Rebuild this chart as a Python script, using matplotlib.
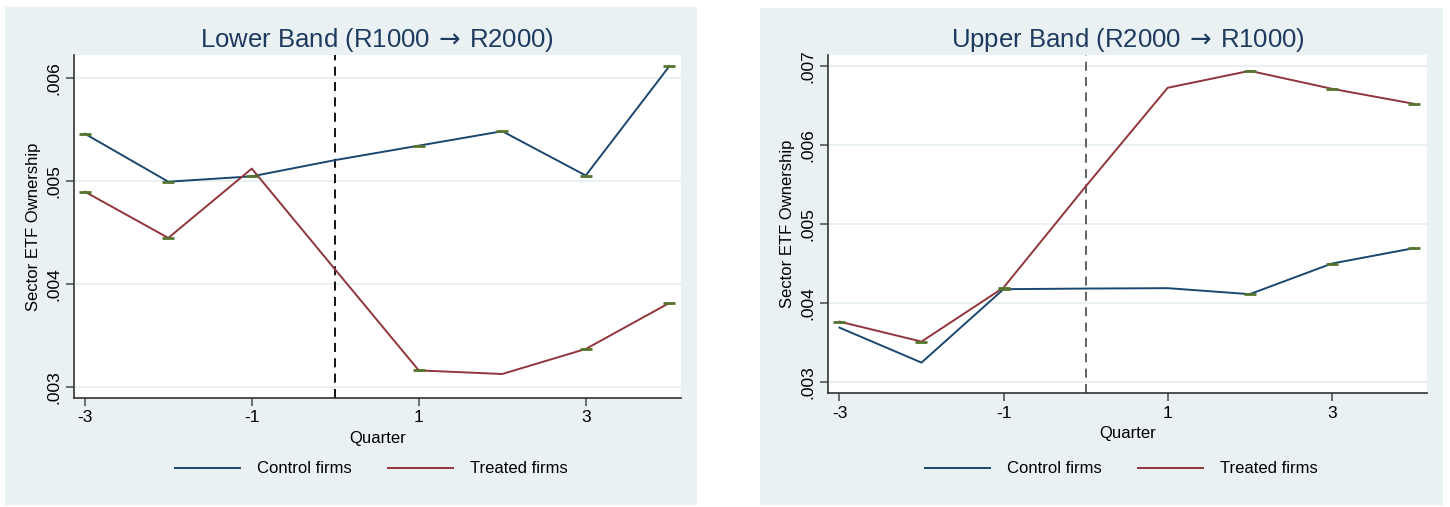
import matplotlib
matplotlib.use("Agg")
import matplotlib.pyplot as plt
from matplotlib.patches import Rectangle

plt.rcParams['font.family'] = ['Liberation Sans', 'DejaVu Sans']
plt.rcParams['mathtext.fontset'] = 'dejavusans'

quarters = [-3, -2, -1, 0, 1, 2, 3, 4]

# Lower band (R1000 -> R2000)
lower_control = [0.005456, 0.004990, 0.005042, 0.005200, 0.005340, 0.005480, 0.005050, 0.006110]
lower_treated = [0.004893, 0.004444, 0.005117, 0.004136, 0.003158, 0.003123, 0.003366, 0.003812]
lower_control_caps = [1, 1, 1, 0, 1, 1, 1, 1]
lower_treated_caps = [1, 1, 0, 0, 1, 0, 1, 1]

# Upper band (R2000 -> R1000)
upper_control = [0.003691, 0.003248, 0.004177, 0.004185, 0.004190, 0.004114, 0.004501, 0.004696]
upper_treated = [0.003767, 0.003514, 0.004197, 0.005476, 0.006725, 0.006940, 0.006713, 0.006523]
upper_control_caps = [0, 0, 1, 0, 0, 1, 1, 1]
upper_treated_caps = [1, 1, 1, 0, 0, 1, 1, 1]

x_ticks = [-3, -1, 1, 3]
lower_yticks = [0.003, 0.004, 0.005, 0.006]
upper_yticks = [0.003, 0.004, 0.005, 0.006, 0.007]

navy = '#1a476f'
maroon = '#90353b'
green = '#55752f'
bg = '#eaf1f3'

fig = plt.figure(figsize=(14.5, 5.07), dpi=100)

# panel backgrounds
fig.patches.append(Rectangle((0.0035, 0.004), 0.4772, 0.982, transform=fig.transFigure,
                             facecolor=bg, edgecolor='none', zorder=-10))
fig.patches.append(Rectangle((0.5241, 0.004), 0.471, 0.980, transform=fig.transFigure,
                             facecolor=bg, edgecolor='none', zorder=-10))

ax1 = fig.add_axes([0.0510, 0.2150, 0.4186, 0.6765])
ax2 = fig.add_axes([0.5710, 0.2243, 0.4131, 0.6672])


def draw(ax, control, treated, ccaps, tcaps, yticks, ylim, xlim, title, vcolor):
    ax.set_facecolor('white')
    for yt in yticks:
        ax.axhline(yt, color='#e4eef0', lw=1.2, zorder=1)
    ax.axvline(0, color=vcolor, lw=1.3, ls=(0, (5, 3.5)), zorder=2)
    ax.plot(quarters, control, color=navy, lw=1.4, zorder=3, label='Control firms')
    ax.plot(quarters, treated, color=maroon, lw=1.4, zorder=3, label='Treated firms')
    cx = [q for q, c in zip(quarters, ccaps) if c]
    cy = [v for v, c in zip(control, ccaps) if c]
    tx = [q for q, c in zip(quarters, tcaps) if c]
    ty = [v for v, c in zip(treated, tcaps) if c]
    ax.plot(cx, cy, ls='none', marker='_', ms=8, mew=2.0, color=green, zorder=4)
    ax.plot(tx, ty, ls='none', marker='_', ms=8, mew=2.0, color=green, zorder=4)

    ax.set_xlim(*xlim)
    ax.set_ylim(*ylim)
    ax.set_xticks(x_ticks)
    ax.set_xticklabels([str(t) for t in x_ticks], fontsize=12.5)
    ax.set_yticks(yticks)
    ax.set_yticklabels([('%.3f' % t)[1:] for t in yticks], fontsize=12.5,
                       rotation=90, va='center')
    for s in ['top', 'right']:
        ax.spines[s].set_visible(False)
    for s in ['left', 'bottom']:
        ax.spines[s].set_color('#333333')
        ax.spines[s].set_linewidth(1.2)
    ax.tick_params(direction='out', length=6, width=1.2, color='#555555', pad=3)
    ax.set_xlabel('Quarter', fontsize=12, labelpad=4)
    ax.set_ylabel('Sector ETF Ownership', fontsize=12, labelpad=4)
    ax.set_title(title, fontsize=18.5, color='#1e3a5f', pad=6)
    pos = ax.get_position()
    ax.legend(loc='center', bbox_to_anchor=((pos.x0 + pos.x1) / 2 - 0.004, 0.075),
              bbox_transform=fig.transFigure, ncol=2, frameon=False, fontsize=12,
              handlelength=3.9, handletextpad=1.0, columnspacing=2.2)


draw(ax1, lower_control, lower_treated, lower_control_caps, lower_treated_caps,
     lower_yticks, (0.00289, 0.00622), (-3.13, 4.14),
     r'Lower Band (R1000$\,\rightarrow\,$R2000)', 'black')
draw(ax2, upper_control, upper_treated, upper_control_caps, upper_treated_caps,
     upper_yticks, (0.00286, 0.00714), (-3.14, 4.16),
     r'Upper Band (R2000$\,\rightarrow\,$R1000)', '#555555')

fig.savefig('out.png', dpi=100, facecolor='white')
